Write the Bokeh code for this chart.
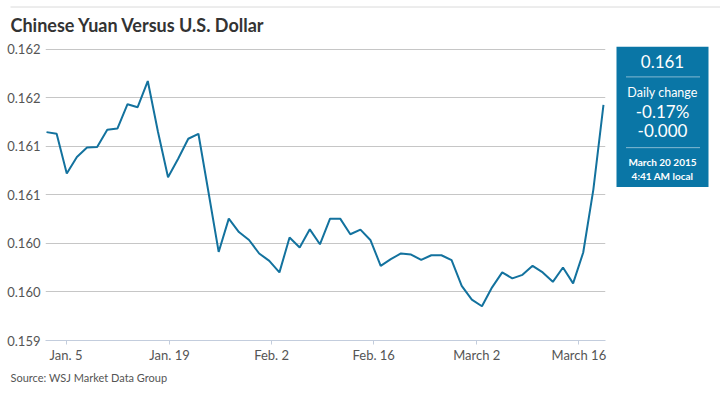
from bokeh.plotting import figure
from bokeh.layouts import column, row
from bokeh.models import Range1d, FixedTicker
from bokeh.core.properties import value
from bokeh.embed import file_html
from bokeh.resources import INLINE

# CNY/USD rate, one value per trading day (Jan 2 - Mar 20, 2015)
rates = [
    0.161148, 0.161131, 0.160721, 0.160892, 0.160990, 0.160995, 0.161172, 0.161185,
    0.161436, 0.161405, 0.161675, 0.161155, 0.160683, 0.160874, 0.161080, 0.161131,
    0.160526, 0.159913, 0.160256, 0.160118, 0.160036, 0.159897, 0.159821, 0.159702,
    0.160061, 0.159958, 0.160146, 0.159992, 0.160256, 0.160256, 0.160095, 0.160143,
    0.160033, 0.159770, 0.159838, 0.159897, 0.159886, 0.159831, 0.159879, 0.159879,
    0.159828, 0.159564, 0.159421, 0.159353, 0.159548, 0.159702, 0.159640, 0.159677,
    0.159770, 0.159702, 0.159605, 0.159753, 0.159589, 0.159907, 0.160556, 0.161429,
]
day_index = list(range(len(rates)))

y_ticks = [0.1590, 0.1595, 0.1600, 0.1605, 0.1610, 0.1615, 0.1620]
y_tick_labels = ["0.159", "0.160", "0.160", "0.161", "0.161", "0.162", "0.162"]
x_tick_pos = [1.93, 12.15, 22.23, 32.31, 42.49, 52.57]
x_tick_labels = ["Jan. 5", "Jan. 19", "Feb. 2", "Feb. 16", "March 2", "March 16"]

title_text = "Chinese Yuan Versus U.S. Dollar"
source_text = "Source: WSJ Market Data Group"
box_lines = ["0.161", "Daily change", "-0.17%", "-0.000", "March 20 2015", "4:41 AM local"]

FONT = "Lato"
LINE_BLUE = "#13729e"
BOX_BLUE = "#0a76a6"

TOP_B, BOT_B = 6, 24          # borders of the chart row (header is 40px tall)
Y_PAD = 3 * 0.003 / 292       # 3px of headroom above the 0.162 gridline


def blank(width, height, x0, x1, y0, y1, **borders):
    f = figure(width=width, height=height, output_backend="svg", toolbar_location=None,
               x_range=Range1d(x0, x1), y_range=Range1d(y0, y1),
               x_axis_type=None, y_axis_type=None, **borders)
    f.outline_line_color = None
    f.grid.grid_line_color = None
    return f


# ---- header: rule + title (page pixel coordinates, y downwards)
h = blank(720, 40, 0, 720, 40, 0, min_border=0)
h.segment(x0=[10], y0=[6.5], x1=[720], y1=[6.5], line_color="#dadada", line_width=1)
h.text(x=[10], y=[24.5], text=[title_text], text_font=value(FONT),
       text_font_style="bold", text_font_size="18px", text_color="#333333",
       text_baseline="middle", text_align="left")

# ---- main chart
p = figure(width=615, height=325, output_backend="svg", toolbar_location=None,
           x_range=Range1d(-0.1, 55.2), y_range=Range1d(0.1590, 0.1620 + Y_PAD),
           min_border_left=45, min_border_right=10, min_border_top=TOP_B,
           min_border_bottom=BOT_B)
p.outline_line_color = None
p.line(day_index, rates, line_color=LINE_BLUE, line_width=2)

p.yaxis.ticker = FixedTicker(ticks=y_ticks)
p.yaxis.major_label_overrides = {t: l for t, l in zip(y_ticks, y_tick_labels)}
p.yaxis.axis_line_color = None
p.yaxis.major_tick_line_color = None
p.yaxis.minor_tick_line_color = None
p.yaxis.major_tick_out = 0
p.yaxis.major_tick_in = 0
p.yaxis.major_label_standoff = 5
p.yaxis.major_label_text_font = FONT
p.yaxis.major_label_text_font_size = "13px"
p.yaxis.major_label_text_color = "#555555"

p.xaxis.ticker = FixedTicker(ticks=x_tick_pos)
p.xaxis.major_label_overrides = {t: l for t, l in zip(x_tick_pos, x_tick_labels)}
p.xaxis.axis_line_color = "#c3cddd"
p.xaxis.major_tick_line_color = "#c3cddd"
p.xaxis.minor_tick_line_color = None
p.xaxis.major_tick_out = 4
p.xaxis.major_tick_in = 0
p.xaxis.major_label_standoff = 2
p.xaxis.major_label_text_font = FONT
p.xaxis.major_label_text_font_size = "13px"
p.xaxis.major_label_text_color = "#555555"

p.xgrid.grid_line_color = None
p.ygrid.grid_line_color = "#c6c6c6"
p.ygrid.grid_line_width = 1

# ---- info box (page pixel coordinates, y downwards; frame spans 46..341)
q = blank(105, 325, 615, 720, 341, 40 + TOP_B,
          min_border_left=0, min_border_right=0,
          min_border_top=TOP_B, min_border_bottom=BOT_B)
q.quad(left=[616], right=[708], top=[46], bottom=[187], fill_color=BOX_BLUE,
       line_color=None)
q.segment(x0=[626, 626], y0=[76.5, 147.5], x1=[699, 699], y1=[76.5, 147.5],
          line_color="white", line_width=1, line_dash="1 1")
box_y = [61.5, 92, 111.5, 130, 161.5, 175.5]
box_size = ["17px", "12.5px", "17px", "17px", "10px", "10px"]
box_style = ["normal", "normal", "normal", "normal", "bold", "bold"]
for txt, yy, fs, st in zip(box_lines, box_y, box_size, box_style):
    q.text(x=[662], y=[yy], text=[txt], text_font=value(FONT), text_font_size=fs,
           text_font_style=st, text_color="white", text_align="center",
           text_baseline="middle")

# ---- footer: source
f = blank(720, 31, 0, 720, 396, 365, min_border=0)
f.text(x=[10], y=[377], text=[source_text], text_font=value(FONT),
       text_font_size="11px", text_color="#555555", text_baseline="middle",
       text_align="left")

layout = column(h, row(p, q), f)
open("out.html", "w").write(file_html(layout, INLINE))
